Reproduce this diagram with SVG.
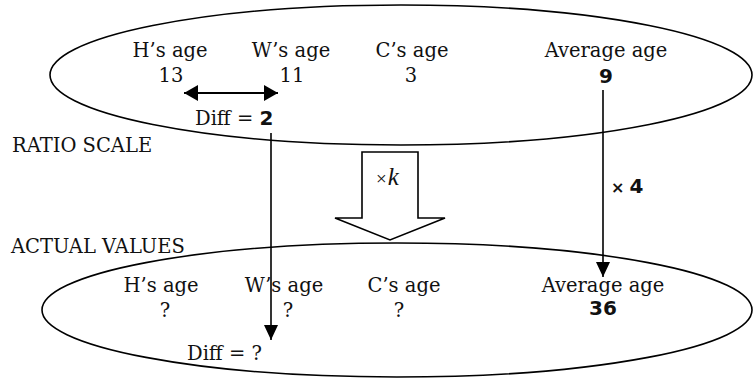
<svg xmlns="http://www.w3.org/2000/svg" width="753" height="378" viewBox="0 0 753 378">
  <style>
    .oval { fill: none; stroke: #000; stroke-width: 1.6; }
    .lbl { font-family: "DejaVu Serif", "Liberation Serif", serif; font-size: 19.5px; fill: #111; }
    .mid { text-anchor: middle; }
    .num { font-family: "DejaVu Sans", "Liberation Sans", sans-serif; font-weight: bold; font-size: 20px; fill: #111; }
    .line { stroke: #000; stroke-width: 1.6; fill: none; }
    .dbl { stroke: #000; stroke-width: 2.2; fill: none; }
  </style>
  <defs>
    <marker id="head" viewBox="0 0 14 16" refX="14" refY="8" markerWidth="14" markerHeight="16" markerUnits="userSpaceOnUse" orient="auto-start-reverse">
      <path d="M0,0 L14,8 L0,16 Z" fill="#000"/>
    </marker>
    <marker id="headv" viewBox="0 0 15 14" refX="15" refY="7" markerWidth="15" markerHeight="14" markerUnits="userSpaceOnUse" orient="auto">
      <path d="M0,0 L15,7 L0,14 Z" fill="#000"/>
    </marker>
  </defs>

  <g id="ratio-scale">
    <ellipse class="oval" cx="401" cy="75" rx="351" ry="70"/>
    <text class="lbl mid" x="170" y="57">H’s age</text>
    <text class="lbl mid" x="171" y="82">13</text>
    <text class="lbl mid" x="291" y="57">W’s age</text>
    <text class="lbl mid" x="292" y="82">11</text>
    <text class="lbl mid" x="412" y="57">C’s age</text>
    <text class="lbl mid" x="411" y="82">3</text>
    <text class="lbl mid" x="606" y="57">Average age</text>
    <text class="num mid" x="606" y="83">9</text>
    <text class="lbl" x="195" y="125">Diff = <tspan class="num">2</tspan></text>
  </g>

  <g id="ratio-scale-label">
    <text class="lbl" x="12" y="152">RATIO SCALE</text>
  </g>

  <g id="actual-values-label">
    <text class="lbl" x="11" y="253">ACTUAL VALUES</text>
  </g>

  <g id="actual-values">
    <ellipse class="oval" cx="397" cy="310" rx="355" ry="67"/>
    <text class="lbl mid" x="161" y="292">H’s age</text>
    <text class="lbl mid" x="165" y="317">?</text>
    <text class="lbl mid" x="284" y="292">W’s age</text>
    <text class="lbl mid" x="288" y="317">?</text>
    <text class="lbl mid" x="404" y="292">C’s age</text>
    <text class="lbl mid" x="399" y="317">?</text>
    <text class="lbl mid" x="603" y="292">Average age</text>
    <text class="num mid" x="603" y="315">36</text>
    <text class="lbl" x="187" y="360">Diff = ?</text>
  </g>

  <g id="scale-arrow">
    <path d="M362,152 L418,152 L418,218 L445,218 L390,240 L335,218 L362,218 Z" fill="#fff" stroke="#000" stroke-width="1.6"/>
    <text x="376" y="185" font-family="Liberation Serif, serif" fill="#111"><tspan font-size="19">×</tspan><tspan font-size="25" font-style="italic" dx="1">k</tspan></text>
  </g>

  <g id="connectors">
    <line class="dbl" x1="184" y1="93" x2="278" y2="93" marker-start="url(#head)" marker-end="url(#head)"/>
    <line class="line" x1="271" y1="133" x2="271" y2="340" marker-end="url(#headv)"/>
    <line class="line" x1="603" y1="90" x2="603" y2="277" marker-end="url(#headv)"/>
    <text x="611" y="193" font-family="DejaVu Sans, sans-serif" font-weight="bold" fill="#111"><tspan font-size="16">×</tspan><tspan font-size="20" dx="5">4</tspan></text>
  </g>
</svg>
